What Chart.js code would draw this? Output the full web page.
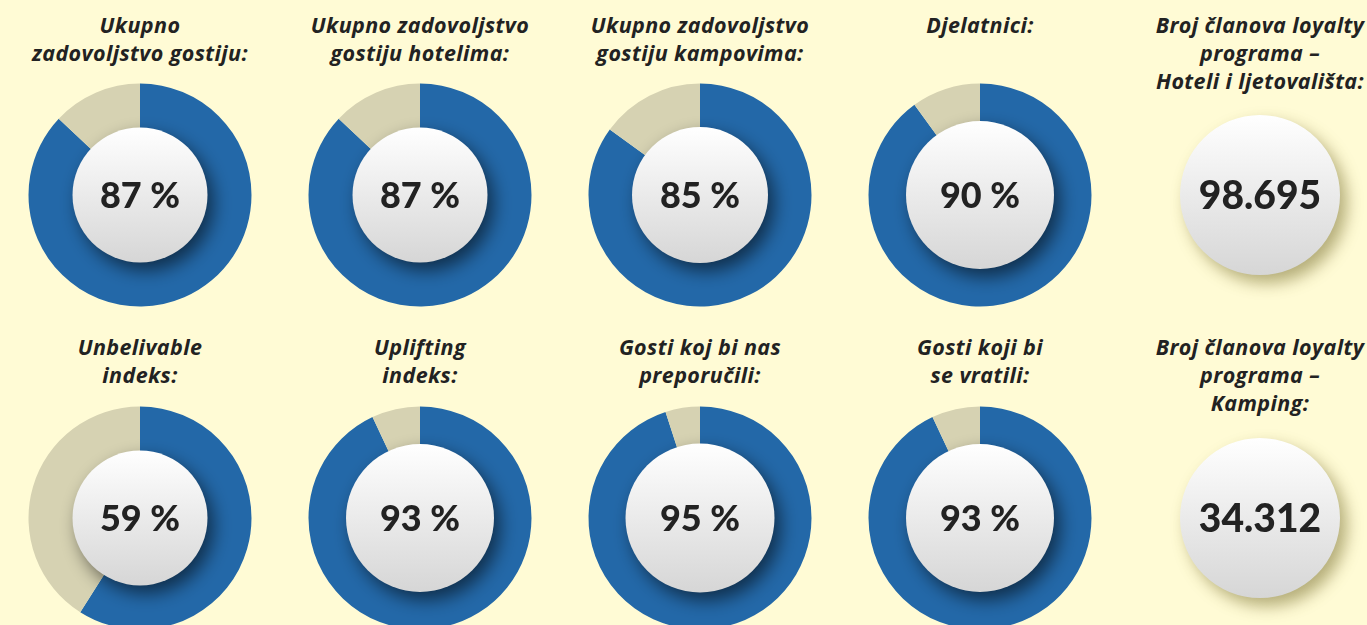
<!DOCTYPE html>
<html lang="hr">
<head>
<meta charset="utf-8">
<title>Zadovoljstvo gostiju</title>
<script src="https://cdn.jsdelivr.net/npm/chart.js@4.4.1/dist/chart.umd.min.js"></script>
<style>
  html, body { margin:0; padding:0; }
  body { width:1367px; height:625px; overflow:hidden; background:#fffbd5; position:relative;
         font-family: "Open Sans", Lato, sans-serif; color:#222; }
  .title { position:absolute; width:280px; text-align:center; font-style:italic; font-weight:700;
           font-size:21.5px; line-height:28px; top:12px; letter-spacing:0.4px; white-space:nowrap; }
  .box { position:absolute; width:260px; height:260px; }
</style>
</head>
<body>
<script>
// --- Data ---
const gaugeTitles = [
  ['Ukupno', 'zadovoljstvo gostiju:'],
  ['Ukupno zadovoljstvo', 'gostiju hotelima:'],
  ['Ukupno zadovoljstvo', 'gostiju kampovima:'],
  ['Djelatnici:'],
  ['Unbelivable', 'indeks:'],
  ['Uplifting', 'indeks:'],
  ['Gosti koj bi nas', 'preporučili:'],
  ['Gosti koji bi', 'se vratili:']
];
const gaugeValues = [87, 87, 85, 90, 59, 93, 95, 93];

const loyaltyTitles = [
  ['Broj članova loyalty', 'programa –', 'Hoteli i ljetovališta:'],
  ['Broj članova loyalty', 'programa –', 'Kamping:']
];
const loyaltyValues = [98695, 34312];

// --- Layout / style ---
const COL_X = [140, 420, 700, 980, 1260];
const ROW_Y = [194.5, 518];
const ROW_TOP = [0, 322];
const innerR = [67.5, 67.5, 68, 74, 67.5, 74, 74.5, 74];
const BLUE = '#2368a8', BEIGE = '#d6d2b2';
const BOX = 260;
const PCT_FONT = '900 36px Lato, "Open Sans", sans-serif';
const NUM_FONT = '900 39px Lato, "Open Sans", sans-serif';

const fmtNum = (n) => String(n).replace(/\B(?=(\d{3})+(?!\d))/g, '.');

function addTitle(lines, col, row){
  const d = document.createElement('div');
  d.className = 'title';
  d.style.left = (COL_X[col] - 140) + 'px';
  d.style.top = (ROW_TOP[row] + 11) + 'px';
  d.innerHTML = lines.join('<br>');
  document.body.appendChild(d);
}

function addCanvas(col, row){
  const box = document.createElement('div');
  box.className = 'box';
  box.style.left = (COL_X[col] - BOX/2) + 'px';
  box.style.top = (ROW_Y[row] - BOX/2) + 'px';
  const c = document.createElement('canvas');
  box.appendChild(c);
  document.body.appendChild(box);
  return c;
}

function whiteFill(ctx, cy, r){
  const g = ctx.createLinearGradient(0, cy - r, 0, cy + r);
  g.addColorStop(0, '#ffffff');
  g.addColorStop(1, '#d6d6d6');
  return g;
}

// center disc + label on top of the ring
const centerDisc = {
  id: 'centerDisc',
  afterDatasetsDraw(chart, args, opts){
    const { ctx } = chart;
    const arc = chart.getDatasetMeta(0).data[0];
    if(!arc) return;
    const cx = arc.x, cy = arc.y, r = opts.radius;
    ctx.save();
    ctx.shadowColor = 'rgba(0,0,0,0.55)';
    ctx.shadowBlur = 18;
    ctx.shadowOffsetX = 6;
    ctx.shadowOffsetY = 8;
    ctx.beginPath(); ctx.arc(cx, cy, r, 0, Math.PI*2);
    ctx.fillStyle = whiteFill(ctx, cy, r);
    ctx.fill();
    ctx.restore();
    ctx.save();
    ctx.fillStyle = '#222';
    ctx.font = PCT_FONT;
    ctx.textAlign = 'center'; ctx.textBaseline = 'middle';
    ctx.fillText(opts.text, cx, cy + 1);
    ctx.restore();
  }
};

// shadow under the plain counter disc
const discShadow = {
  id: 'discShadow',
  beforeDatasetDraw(chart){
    const ctx = chart.ctx;
    ctx.save();
    ctx.shadowColor = 'rgba(90,80,10,0.45)';
    ctx.shadowBlur = 16;
    ctx.shadowOffsetX = 7;
    ctx.shadowOffsetY = 8;
  },
  afterDatasetDraw(chart){ chart.ctx.restore(); },
  afterDatasetsDraw(chart, args, opts){
    const arc = chart.getDatasetMeta(0).data[0];
    const ctx = chart.ctx;
    ctx.save();
    ctx.fillStyle = '#222';
    ctx.font = NUM_FONT;
    ctx.textAlign = 'center'; ctx.textBaseline = 'middle';
    ctx.fillText(opts.text, arc.x, arc.y + 1);
    ctx.restore();
  }
};

const baseOpts = {
  responsive: true, maintainAspectRatio: false, animation: false,
  layout: { padding: 0 },
  plugins: { legend: { display:false }, tooltip: { enabled:false } },
  events: []
};

// --- Doughnuts ---
gaugeValues.forEach((v, i) => {
  const col = i % 4, row = Math.floor(i / 4);
  addTitle(gaugeTitles[i], col, row);
  new Chart(addCanvas(col, row), {
    type: 'doughnut',
    data: {
      labels: ['Da', 'Ostalo'],
      datasets: [{ data: [v, 100 - v], backgroundColor: [BLUE, BEIGE], borderWidth: 0 }]
    },
    options: {
      ...baseOpts,
      radius: 111.5,
      cutout: 50,
      plugins: { ...baseOpts.plugins, centerDisc: { radius: innerR[i], text: v + ' %' } }
    },
    plugins: [centerDisc]
  });
});

// --- Loyalty counters ---
loyaltyValues.forEach((v, i) => {
  addTitle(loyaltyTitles[i], 4, i);
  new Chart(addCanvas(4, i), {
    type: 'pie',
    data: {
      labels: ['Članovi'],
      datasets: [{
        data: [v], borderWidth: 0,
        backgroundColor: (c) => {
          const a = c.chart.chartArea;
          if(!a) return '#eee';
          return whiteFill(c.chart.ctx, (a.top + a.bottom) / 2, 80);
        }
      }]
    },
    options: {
      ...baseOpts,
      radius: 80,
      plugins: { ...baseOpts.plugins, discShadow: { text: fmtNum(v) } }
    },
    plugins: [discShadow]
  });
});
</script>
</body>
</html>
